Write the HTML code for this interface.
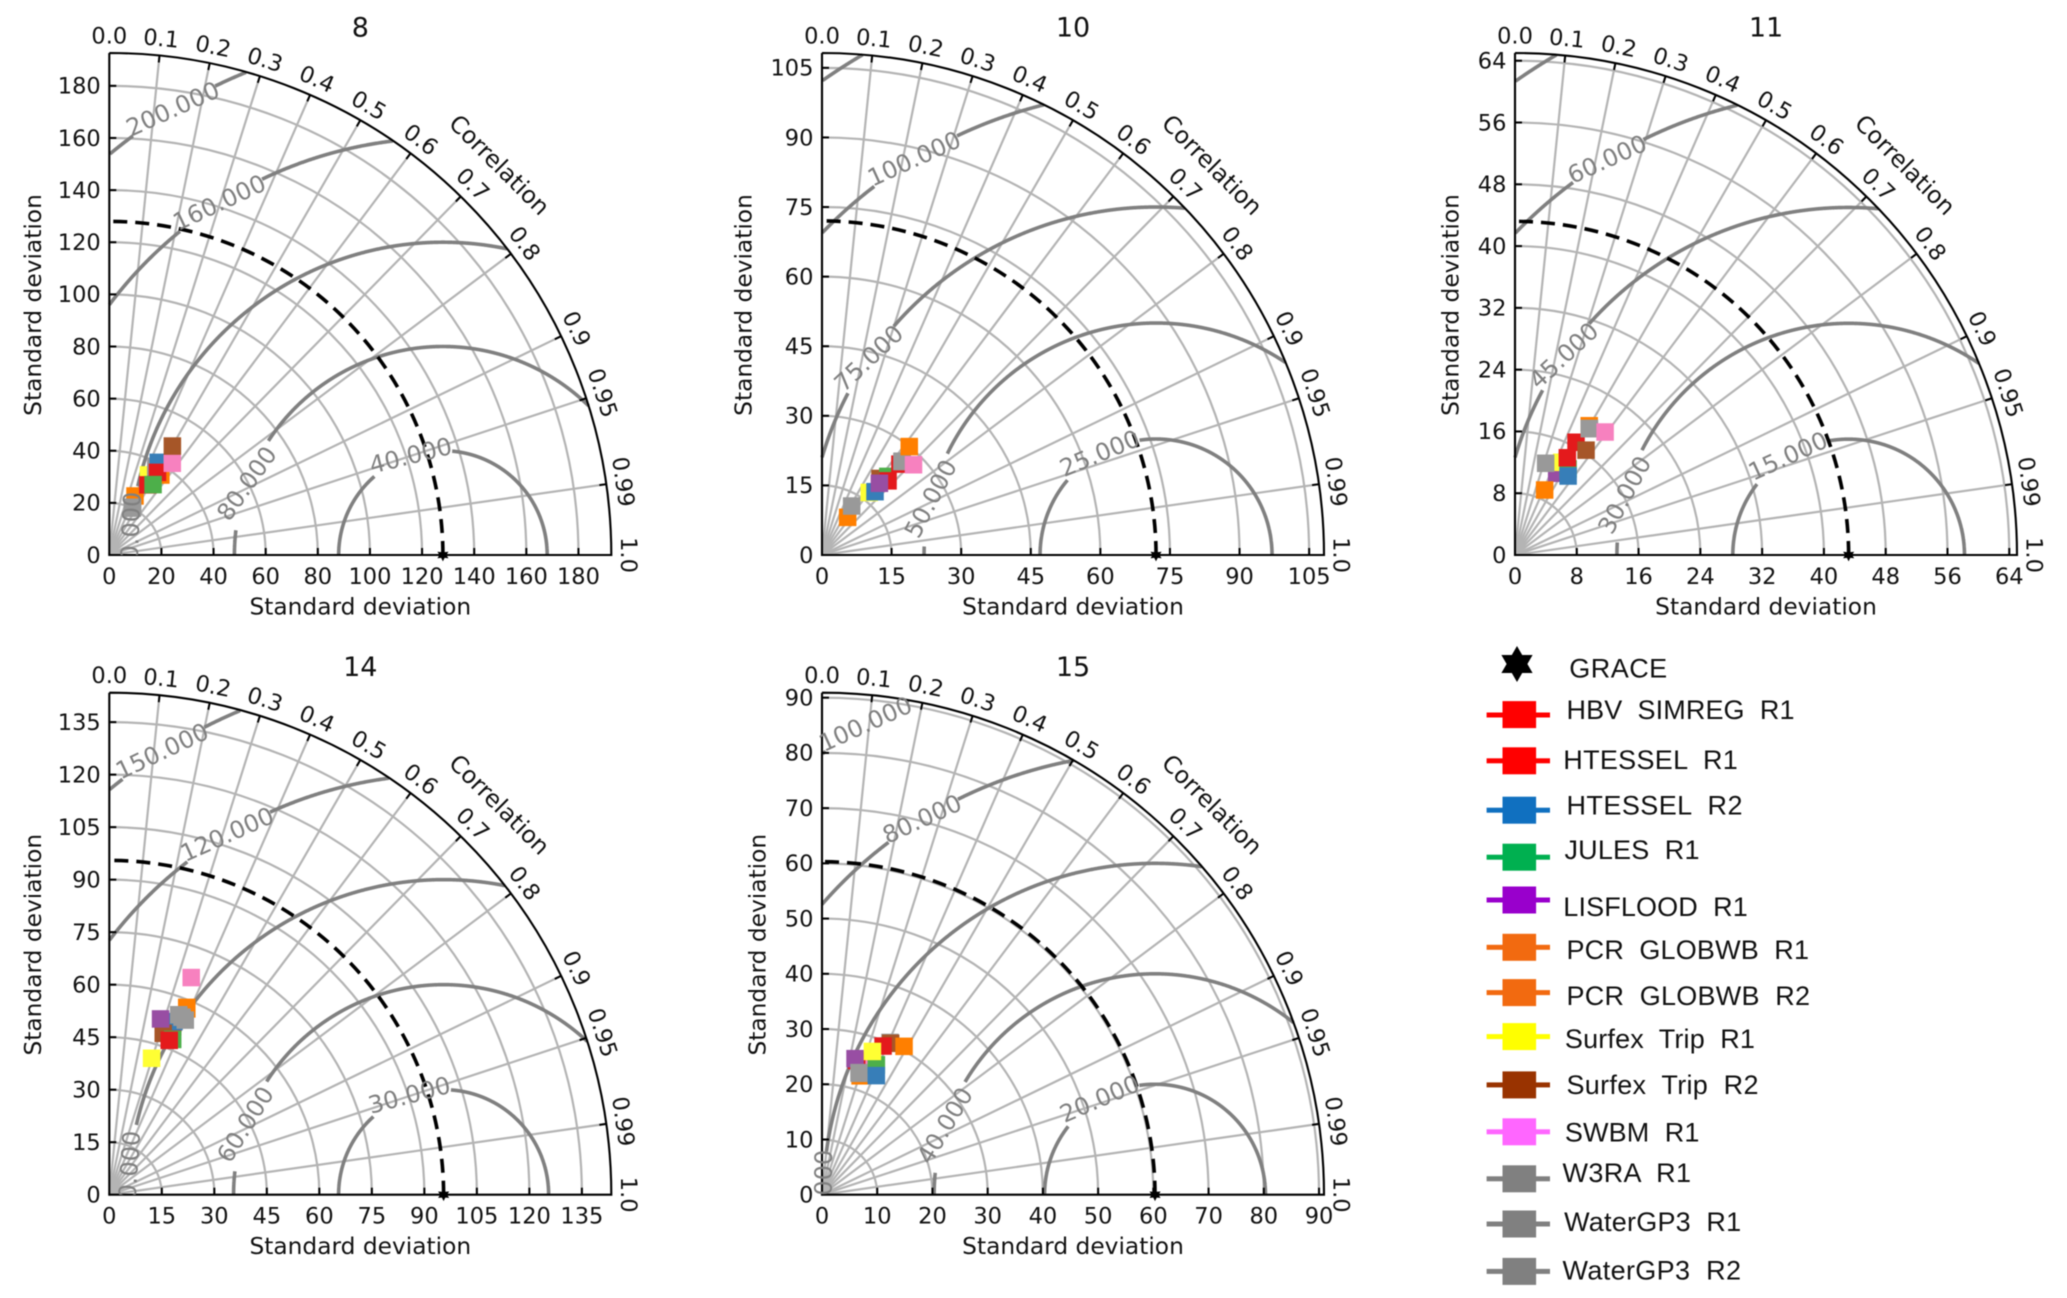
<!DOCTYPE html>
<html lang="en">
<head>
<meta charset="utf-8">
<title>Taylor diagrams</title>
<style>
html,body{margin:0;padding:0;background:#fff;}
#chart{display:block;width:2067px;height:1298px;filter:blur(0.5px);}
#chart text{font-family:"DejaVu Sans","Liberation Sans",sans-serif;fill:#111;}
#chart .axis-title{font-size:23.3px;text-anchor:middle;dominant-baseline:central;}
#chart .panel-title{font-size:27px;text-anchor:middle;dominant-baseline:central;}
#chart .corr-title{font-size:23.6px;text-anchor:middle;dominant-baseline:central;}
#chart .tick{font-size:22.5px;dominant-baseline:central;}
#chart .clabel{font-size:24px;fill:#808080;text-anchor:middle;dominant-baseline:central;}
#chart .legend-text{font-family:"Liberation Sans",Arial,sans-serif;font-size:27px;fill:#111;white-space:pre;}
</style>
</head>
<body>
<svg id="chart" xmlns="http://www.w3.org/2000/svg" width="2067" height="1298" viewBox="0 0 2067 1298">
  <rect x="0" y="0" width="2067" height="1298" fill="#ffffff"/>

  <g id="panel-8" transform="translate(109.3,555)">
    <text class="panel-title" x="251" y="-527">8</text>
    <text class="axis-title" x="251" y="52">Standard deviation</text>
    <text class="axis-title" transform="translate(-76,-250) rotate(-90)">Standard deviation</text>
    <text class="corr-title" transform="translate(390,-390) rotate(45)">Correlation</text>
  </g>
  <g id="panel-10" transform="translate(822,555)">
    <text class="panel-title" x="251" y="-527">10</text>
    <text class="axis-title" x="251" y="52">Standard deviation</text>
    <text class="axis-title" transform="translate(-78,-250) rotate(-90)">Standard deviation</text>
    <text class="corr-title" transform="translate(390,-390) rotate(45)">Correlation</text>
  </g>
  <g id="panel-11" transform="translate(1515,555)">
    <text class="panel-title" x="251" y="-527">11</text>
    <text class="axis-title" x="251" y="52">Standard deviation</text>
    <text class="axis-title" transform="translate(-64,-250) rotate(-90)">Standard deviation</text>
    <text class="corr-title" transform="translate(390,-390) rotate(45)">Correlation</text>
  </g>
  <g id="panel-14" transform="translate(109.3,1194.7)">
    <text class="panel-title" x="251" y="-527">14</text>
    <text class="axis-title" x="251" y="52">Standard deviation</text>
    <text class="axis-title" transform="translate(-76,-250) rotate(-90)">Standard deviation</text>
    <text class="corr-title" transform="translate(390,-390) rotate(45)">Correlation</text>
  </g>
  <g id="panel-15" transform="translate(822,1194.7)">
    <text class="panel-title" x="251" y="-527">15</text>
    <text class="axis-title" x="251" y="52">Standard deviation</text>
    <text class="axis-title" transform="translate(-64,-250) rotate(-90)">Standard deviation</text>
    <text class="corr-title" transform="translate(390,-390) rotate(45)">Correlation</text>
  </g>

  <g>
    <g>
      <polygon fill="#000" transform="translate(1517,664)" points="0,-18 5.2,-9 15.6,-9 10.4,0 15.6,9 5.2,9 0,18 -5.2,9 -15.6,9 -10.4,0 -15.6,-9 -5.2,-9"/>
      <text class="legend-text" x="1569.2" y="677.5" textLength="98" lengthAdjust="spacing">GRACE</text>
    </g>
    <g>
      <rect x="1486.6" y="712.5" width="63.4" height="5" fill="#ff0000"/>
      <rect x="1502.5" y="701.1" width="33.6" height="27" fill="#ff0000"/>
      <text class="legend-text" x="1566.5" y="719.1" textLength="228" lengthAdjust="spacing">HBV  SIMREG  R1</text>
    </g>
    <g>
      <rect x="1486.6" y="758.3" width="63.4" height="5" fill="#ff0000"/>
      <rect x="1502.5" y="747.3" width="33.6" height="27" fill="#ff0000"/>
      <text class="legend-text" x="1563.3" y="769" textLength="174.5" lengthAdjust="spacing">HTESSEL  R1</text>
    </g>
    <g>
      <rect x="1486.6" y="807.7" width="63.4" height="5" fill="#1070c0"/>
      <rect x="1502.5" y="796.7" width="33.6" height="27" fill="#1070c0"/>
      <text class="legend-text" x="1566.5" y="814.3" textLength="176" lengthAdjust="spacing">HTESSEL  R2</text>
    </g>
    <g>
      <rect x="1486.6" y="854.7" width="63.4" height="5" fill="#00b050"/>
      <rect x="1502.5" y="843.7" width="33.6" height="27" fill="#00b050"/>
      <text class="legend-text" x="1564.5" y="859.1" textLength="135" lengthAdjust="spacing">JULES  R1</text>
    </g>
    <g>
      <rect x="1486.6" y="897.5" width="63.4" height="5" fill="#9900cc"/>
      <rect x="1502.5" y="886.5" width="33.6" height="27" fill="#9900cc"/>
      <text class="legend-text" x="1563.3" y="916.2" textLength="184.5" lengthAdjust="spacing">LISFLOOD  R1</text>
    </g>
    <g>
      <rect x="1486.6" y="944.8" width="63.4" height="5" fill="#f26a10"/>
      <rect x="1502.5" y="933.8" width="33.6" height="27" fill="#f26a10"/>
      <text class="legend-text" x="1566.5" y="958.9" textLength="242.5" lengthAdjust="spacing">PCR  GLOBWB  R1</text>
    </g>
    <g>
      <rect x="1486.6" y="990.1" width="63.4" height="5" fill="#f26a10"/>
      <rect x="1502.5" y="979.1" width="33.6" height="27" fill="#f26a10"/>
      <text class="legend-text" x="1566.5" y="1005.1" textLength="243.5" lengthAdjust="spacing">PCR  GLOBWB  R2</text>
    </g>
    <g>
      <rect x="1486.6" y="1034.1" width="63.4" height="5" fill="#ffff00"/>
      <rect x="1502.5" y="1023.1" width="33.6" height="27" fill="#ffff00"/>
      <text class="legend-text" x="1564.9" y="1048.2" textLength="190" lengthAdjust="spacing">Surfex  Trip  R1</text>
    </g>
    <g>
      <rect x="1486.6" y="1082.4" width="63.4" height="5" fill="#993300"/>
      <rect x="1502.5" y="1071.4" width="33.6" height="27" fill="#993300"/>
      <text class="legend-text" x="1566.5" y="1093.9" textLength="192" lengthAdjust="spacing">Surfex  Trip  R2</text>
    </g>
    <g>
      <rect x="1486.6" y="1129.3" width="63.4" height="5" fill="#ff66ff"/>
      <rect x="1502.5" y="1118.3" width="33.6" height="27" fill="#ff66ff"/>
      <text class="legend-text" x="1564.9" y="1141.7" textLength="134.5" lengthAdjust="spacing">SWBM  R1</text>
    </g>
    <g>
      <rect x="1486.6" y="1176.3" width="63.4" height="5" fill="#808080"/>
      <rect x="1502.5" y="1165.3" width="33.6" height="27" fill="#808080"/>
      <text class="legend-text" x="1562.5" y="1182" textLength="128.5" lengthAdjust="spacing">W3RA  R1</text>
    </g>
    <g>
      <rect x="1486.6" y="1221.5" width="63.4" height="5" fill="#808080"/>
      <rect x="1502.5" y="1210.5" width="33.6" height="27" fill="#808080"/>
      <text class="legend-text" x="1564.1" y="1231.1" textLength="177" lengthAdjust="spacing">WaterGP3  R1</text>
    </g>
    <g>
      <rect x="1486.6" y="1268.9" width="63.4" height="5" fill="#808080"/>
      <rect x="1502.5" y="1257.9" width="33.6" height="27" fill="#808080"/>
      <text class="legend-text" x="1562.5" y="1279.7" textLength="178.5" lengthAdjust="spacing">WaterGP3  R2</text>
    </g>
  </g>
</svg>

<script>
// Model series, in legend order
const modelNames = ['HBV SIMREG R1','HTESSEL R1','HTESSEL R2','JULES R1','LISFLOOD R1','PCR GLOBWB R1','PCR GLOBWB R2','Surfex Trip R1','Surfex Trip R2','SWBM R1','W3RA R1','WaterGP3 R1','WaterGP3 R2'];
const modelColors = ['#e41a1c','#e41a1c','#377eb8','#4daf4a','#984ea3','#ff7f00','#ff7f00','#ffff33','#a65628','#f781bf','#999999','#999999','#999999'];

// Correlation ticks
const corrTicks = [0,0.1,0.2,0.3,0.4,0.5,0.6,0.7,0.8,0.9,0.95,0.99,1];
const corrLabels = ['0.0','0.1','0.2','0.3','0.4','0.5','0.6','0.7','0.8','0.9','0.95','0.99','1.0'];

// Panel 8
const rmax8 = 192.6;
const refStd8 = 128;
const ticks8 = [0,20,40,60,80,100,120,140,160,180];
const levels8 = [40,80,120,160,200];
const levelAngles8 = [108,160,177.5,122.4,121.2];
const std8 = [30.7,36.7,40.2,31.8,37.8,24.7,36.5,34.2,48.3,42.7,20.4,38.3,20];
const corr8 = [0.482,0.504,0.467,0.528,0.473,0.399,0.542,0.439,0.501,0.566,0.439,0.467,0.44];
const order8 = [5,6,7,4,11,2,10,12,1,0,3,9,8];

// Panel 10
const rmax10 = 108.2;
const refStd10 = 72;
const ticks10 = [0,15,30,45,60,75,90,105];
const levels10 = [25,50,75,100,125];
const levelAngles10 = [119,166,145.6,121.4,null];
const std10 = [21.4,25.8,17.8,22.1,19.8,9.82,30,16.9,20.7,27.7,12.34,26.6,26.5];
const corr10 = [0.665,0.651,0.642,0.642,0.625,0.563,0.627,0.603,0.604,0.712,0.518,0.65,0.65];
const order10 = [7,2,8,3,0,4,1,12,11,9,5,10,6];

// Panel 11
const rmax11 = 65;
const refStd11 = 43.2;
const ticks11 = [0,8,16,24,32,40,48,56,64];
const levels11 = [15,30,45,60,75];
const levelAngles11 = [121.5,165,145,121.4,null];
const std11 = [14.3,16.6,12.32,13.09,11.88,9.25,19.3,13.44,16.4,19.74,12.52,18.98,19];
const corr11 = [0.474,0.476,0.558,0.525,0.454,0.415,0.498,0.45,0.561,0.591,0.317,0.507,0.507];
const order11 = [4,7,3,0,2,5,10,1,8,6,11,12,9];

// Panel 14
const rmax14 = 143.4;
const refStd14 = 95.5;
const ticks14 = [0,15,30,45,60,75,90,105,120,135];
const levels14 = [30,60,90,120,150];
const levelAngles14 = [109,160.5,176,121,122.4];
const std14 = [47.3,51.3,52.8,47.9,52.3,57.9,57.5,40.8,48.6,66.3,54.8,55.1,54.4];
const corr14 = [0.362,0.353,0.35,0.378,0.28,0.382,0.385,0.296,0.317,0.353,0.379,0.36,0.399];
const order14 = [5,6,1,2,8,3,0,4,7,9,10,11,12];

// Panel 15
const rmax15 = 90.9;
const refStd15 = 60.3;
const ticks15 = [0,10,20,30,40,50,60,70,80,90];
const levels15 = [20,40,60,80,100];
const levelAngles15 = [120,161.8,179.5,121.8,121.6];
const std15 = [29.1,25.1,23.7,25.5,25.35,22.6,30.7,27.5,30.1,24.4,23,23.1,30.2];
const corr15 = [0.38,0.25,0.415,0.386,0.236,0.305,0.484,0.332,0.413,0.277,0.294,0.29,0.408];
const order15 = [5,9,1,4,10,11,3,2,12,8,6,0,7];

const panels = [
  {id:'8', rmax:rmax8, ref:refStd8, ticks:ticks8, levels:levels8, angles:levelAngles8, std:std8, corr:corr8, order:order8},
  {id:'10', rmax:rmax10, ref:refStd10, ticks:ticks10, levels:levels10, angles:levelAngles10, std:std10, corr:corr10, order:order10},
  {id:'11', rmax:rmax11, ref:refStd11, ticks:ticks11, levels:levels11, angles:levelAngles11, std:std11, corr:corr11, order:order11},
  {id:'14', rmax:rmax14, ref:refStd14, ticks:ticks14, levels:levels14, angles:levelAngles14, std:std14, corr:corr14, order:order14},
  {id:'15', rmax:rmax15, ref:refStd15, ticks:ticks15, levels:levels15, angles:levelAngles15, std:std15, corr:corr15, order:order15}
];

const NS = 'http://www.w3.org/2000/svg';
const R = 502;
const MARKER = 17.5;

function mk(tag, attrs, parent, name) {
  const el = document.createElementNS(NS, tag);
  for (const k in attrs) el.setAttribute(k, attrs[k]);
  
  
  parent.appendChild(el);
  return el;
}

function drawPanel(p) {
  const host = document.getElementById('panel-' + p.id);
  const k = R / p.rmax;
  const sx = v => v * k;
  const sy = v => -v * k;
  const polarX = (s, c) => sx(s * c);
  const polarY = (s, c) => sy(s * Math.sqrt(Math.max(0, 1 - c * c)));

  const clipId = 'clip-' + p.id;
  const clip = mk('clipPath', {id: clipId}, host, 'label-clip');
  mk('rect', {x: -60, y: -R - 60, width: R + 120, height: R + 60}, clip, 'label-clip-rect');

  // radial std grid
  p.ticks.forEach(t => {
    if (t > 0) {
      const r = sx(t);
      mk('path', {d: `M${r} 0A${r} ${r} 0 0 0 0 ${-r}`, fill: 'none', stroke: '#b4b4b4', 'stroke-width': 2.2}, host, 'std-gridline-' + t);
    }
  });
  // correlation rays
  corrTicks.forEach((c, i) => {
    if (c === 0 || c === 1) return;
    mk('line', {x1: 0, y1: 0, x2: polarX(p.rmax, c), y2: polarY(p.rmax, c), stroke: '#b4b4b4', 'stroke-width': 2.2}, host, 'correlation-gridline-' + corrLabels[i]);
  });
  // RMS contours
  p.levels.forEach((lev, i) => {
    const ang = p.angles[i];
    const label = lev.toFixed(3);
    const rpx = lev * k;
    const pad = rpx < 150 ? 0 : (rpx < 320 ? 12 : -3);
    const textW = (label.length - 1) * 0.636 * 24 + 0.318 * 24 + pad;
    const half = ang === null ? 0 : (textW / 2) / rpx * 180 / Math.PI;
    let d = '';
    let pen = false;
    for (let a = 180; a >= 0; a -= 0.1) {
      const x = p.ref + lev * Math.cos(a * Math.PI / 180);
      const y = lev * Math.sin(a * Math.PI / 180);
      const ok = x >= 0 && y >= -1e-6 && Math.hypot(x, y) <= p.rmax && (ang === null || Math.abs(a - ang) > half);
      if (ok) {
        d += (pen ? 'L' : 'M') + sx(x).toFixed(2) + ' ' + sy(y).toFixed(2);
        pen = true;
      } else {
        pen = false;
      }
    }
    mk('path', {d: d, fill: 'none', stroke: '#808080', 'stroke-width': 3.6}, host, 'rms-contour-' + lev);
  });
  // reference dashed arc
  const rr = sx(p.ref);
  mk('path', {d: `M${rr} 0A${rr} ${rr} 0 0 0 0 ${-rr}`, fill: 'none', stroke: '#000', 'stroke-width': 3.6, 'stroke-dasharray': '14 8'}, host, 'reference-std-arc');

  // axis ticks
  p.ticks.forEach(t => {
    const v = sx(t);
    if (t > 0) {
      mk('line', {x1: v, y1: 0, x2: v, y2: -7, stroke: '#000', 'stroke-width': 2}, host, 'x-tick-' + t);
      mk('line', {x1: 0, y1: -v, x2: 7, y2: -v, stroke: '#000', 'stroke-width': 2}, host, 'y-tick-' + t);
    }
    const xl = mk('text', {class: 'tick', x: v, y: 22, 'text-anchor': 'middle'}, host, 'x-tick-label-' + t);
    xl.textContent = String(t);
    const yl = mk('text', {class: 'tick', x: -8.6, y: -v + 0.8, 'text-anchor': 'end'}, host, 'y-tick-label-' + t);
    yl.textContent = String(t);
  });
  // correlation ticks and labels
  corrTicks.forEach((c, i) => {
    const theta = Math.acos(c);
    const cs = Math.cos(theta);
    const sn = Math.sin(theta);
    if (c !== 0 && c !== 1) {
      mk('line', {x1: (R - 7) * cs, y1: -(R - 7) * sn, x2: R * cs, y2: -R * sn, stroke: '#000', 'stroke-width': 2}, host, 'correlation-tick-' + corrLabels[i]);
    }
    const lr = R + 16.5;
    const rot = 90 - theta * 180 / Math.PI;
    const tx = mk('text', {class: 'tick', 'text-anchor': 'middle', transform: `translate(${lr * cs},${-lr * sn}) rotate(${rot})`}, host, 'correlation-label-' + corrLabels[i]);
    tx.textContent = corrLabels[i];
  });
  // axes frame
  mk('path', {d: `M0 ${-R}L0 0L${R} 0A${R} ${R} 0 0 0 0 ${-R}`, fill: 'none', stroke: '#000', 'stroke-width': 2.1}, host, 'axes-frame');

  // model markers
  p.order.forEach(idx => {
    const cx = polarX(p.std[idx], p.corr[idx]);
    const cy = polarY(p.std[idx], p.corr[idx]);
    mk('rect', {x: cx - MARKER / 2, y: cy - MARKER / 2, width: MARKER, height: MARKER, fill: modelColors[idx]}, host, 'marker-' + modelNames[idx].toLowerCase().replace(/ /g, '-'));
  });
  // reference star
  const st = [];
  for (let i = 0; i < 12; i++) {
    const r = i % 2 ? 3.4 : 6.4;
    const a = Math.PI / 2 + i * Math.PI / 6;
    st.push((sx(p.ref) + r * Math.cos(a)).toFixed(1) + ',' + (-r * Math.sin(a)).toFixed(1));
  }
  mk('polygon', {points: st.join(' '), fill: '#000'}, host, 'reference-star-grace');

  // contour labels
  p.levels.forEach((lev, i) => {
    const ang = p.angles[i];
    if (ang === null) return;
    const a = ang * Math.PI / 180;
    const x = sx(p.ref + lev * Math.cos(a));
    const y = sy(lev * Math.sin(a));
    const rot = ang > 170 ? 90 - ang : (90 - ang) * (ang > 160 ? 0.82 : 0.78);
    const wrap = mk('g', {'clip-path': `url(#${clipId})`}, host, 'rms-label-group-' + lev);
    const t = mk('text', {class: 'clabel', transform: `translate(${x},${y}) rotate(${rot})`}, wrap, 'rms-label-' + lev);
    t.textContent = lev.toFixed(3);
  });
}

panels.forEach(drawPanel);
</script>
</body>
</html>
